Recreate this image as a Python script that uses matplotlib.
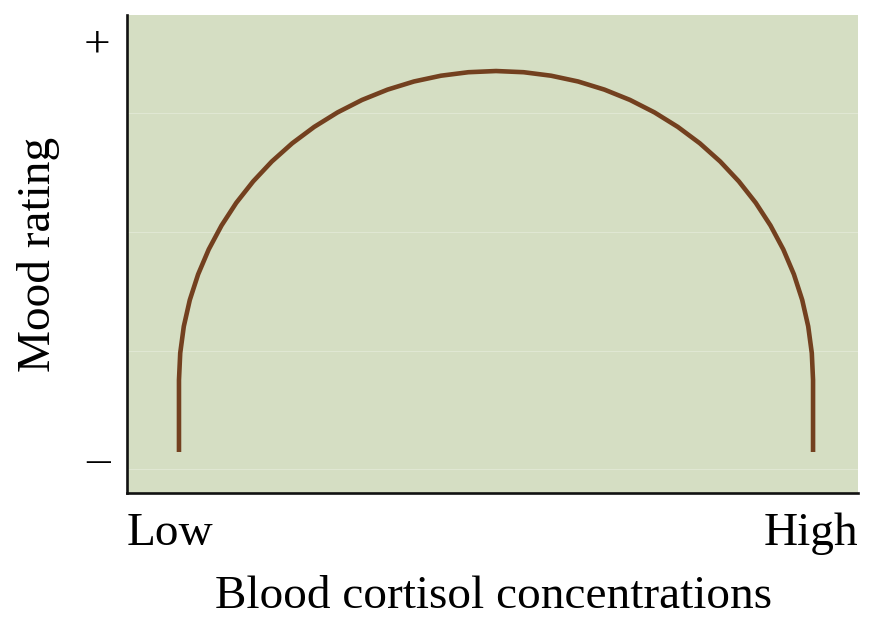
import matplotlib
matplotlib.use('Agg')
import matplotlib.pyplot as plt

# curve (x: 0..100 across the axes, y: 0..100 up the axes)
curve_x = [7.11, 7.11, 7.28, 7.77, 8.59, 9.73, 11.18, 12.93, 14.95, 17.26, 19.81,
           22.60, 25.61, 28.80, 32.15, 35.65, 39.25, 42.95, 46.70, 50.48,
           54.26, 58.01, 61.71, 65.31, 68.81, 72.16, 75.35, 78.36, 81.15,
           83.70, 86.01, 88.03, 89.78, 91.23, 92.37, 93.19, 93.68, 93.85, 93.85]
curve_y = [8.58, 23.64, 29.27, 34.85, 40.38, 45.75, 50.96, 55.96, 60.71, 65.19, 69.35,
           73.16, 76.59, 79.62, 82.23, 84.39, 86.09, 87.30, 88.03, 88.28,
           88.03, 87.30, 86.09, 84.39, 82.23, 79.62, 76.59, 73.16, 69.35,
           65.19, 60.71, 55.96, 50.96, 45.75, 40.38, 34.85, 29.27, 23.64, 8.58]

grid_y = [5.0, 29.8, 54.6, 79.5]

x_ticks = [0, 100]
x_labels = ['Low', 'High']
y_ticks = [7.5, 94.8]
y_labels = ['\u2013', '+']

bg = '#d5dec3'
brown = '#73401f'

plt.rcParams['font.family'] = ['Liberation Serif', 'DejaVu Serif']

fig = plt.figure(figsize=(8.88, 6.38), dpi=100)
ax = fig.add_axes([127 / 888, 1 - 493 / 638, 731 / 888, 478 / 638])
ax.set_facecolor(bg)

for g in grid_y:
    ax.axhline(g, color='#e0e7d3', lw=0.8, zorder=1)

ax.plot(curve_x, curve_y, color=brown, lw=3.3, solid_capstyle='butt',
        solid_joinstyle='round', zorder=3)

ax.set_xlim(0, 100)
ax.set_ylim(0, 100)

for s in ['top', 'right']:
    ax.spines[s].set_visible(False)
for s in ['left', 'bottom']:
    ax.spines[s].set_linewidth(1.9)
    ax.spines[s].set_color('#111111')

ax.set_xticks(x_ticks)
ax.set_xticklabels(x_labels, fontsize=34)
ax.get_xticklabels()[0].set_ha('left')
ax.get_xticklabels()[1].set_ha('right')
ax.tick_params(axis='x', length=0, pad=14)

ax.set_yticks(y_ticks)
ax.set_yticklabels(y_labels, fontsize=34)
ax.tick_params(axis='y', length=0, pad=12)

fig.text(494 / 888, 1 - 597 / 638, 'Blood cortisol concentrations',
         fontsize=34, ha='center', va='center')
fig.text(38 / 888, 1 - 254 / 638, 'Mood rating', fontsize=34,
         rotation=90, ha='center', va='center')

fig.savefig('out.png', dpi=100, facecolor='white')
